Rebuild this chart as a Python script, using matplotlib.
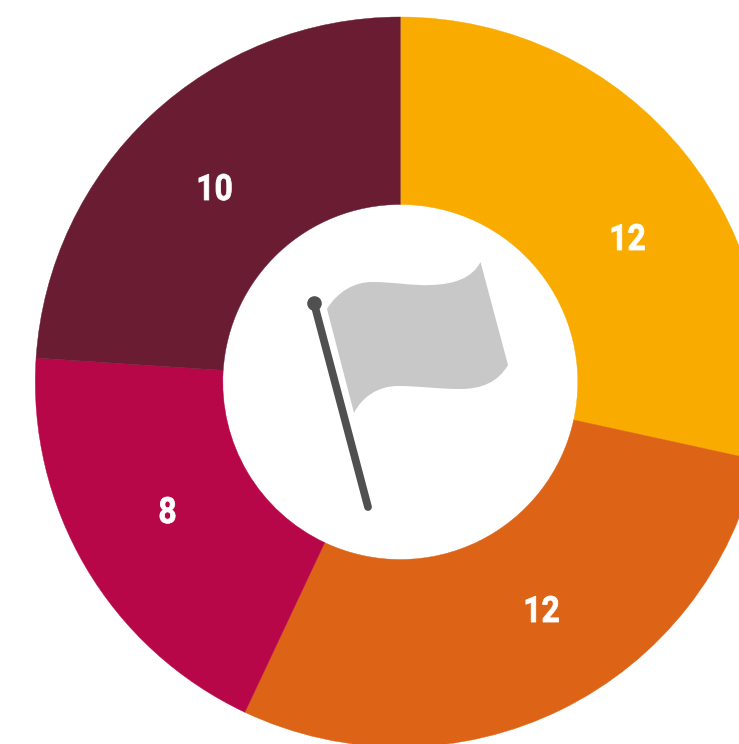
import matplotlib.pyplot as plt
import matplotlib.patheffects as pe
from matplotlib.path import Path
from matplotlib.patches import PathPatch
from matplotlib.transforms import Affine2D

# %% Data
categories = ['Amber', 'Orange', 'Crimson', 'Maroon']
values = [11.94, 12, 8, 10.06]
labels = ['12', '12', '8', '10']
colors = ['#f9ab00', '#dd6316', '#b80748', '#691c32']

W, H = 739, 744


# squeeze the glyphs sideways and thicken them a bit, no Roboto Condensed installed
class Condense(pe.AbstractPathEffect):
    def __init__(self, cx, sx, stroke):
        super().__init__()
        self.cx = cx
        self.sx = sx
        self.stroke = stroke

    def draw_path(self, renderer, gc, tpath, affine, rgbFace=None):
        squeeze = Affine2D().translate(-self.cx, 0).scale(self.sx, 1).translate(self.cx, 0)
        gc0 = renderer.new_gc()
        gc0.copy_properties(gc)
        gc0.set_foreground('white')
        gc0.set_linewidth(self.stroke)
        renderer.draw_path(gc0, tpath, affine + squeeze, rgbFace)
        gc0.restore()


fig = plt.figure(figsize=(W / 100, H / 100), dpi=100)
ax = fig.add_axes([0, 0, 1, 1])

# y axis is flipped, so counterclock=True runs clockwise on screen
wedges, _ = ax.pie(values, colors=colors, center=(400.3, 382), radius=365, startangle=-90,
                   counterclock=True, frame=True, wedgeprops=dict(width=187.5))
for w, c in zip(wedges, colors):
    w.set_edgecolor(c)
    w.set_linewidth(0.3)
ax.set_xlim(0, W)
ax.set_ylim(H, 0)
ax.set_aspect('equal')
ax.axis('off')

# %% Labels
label_pos = [(627.5, 240), (541.5, 612), (167.5, 513), (214.5, 190)]
for txt, (x, y) in zip(labels, label_pos):
    cx = ax.transData.transform((x, y))[0]
    ax.text(x, y, txt, color='white', fontsize=26, fontweight='bold',
            family='Roboto', ha='center', va='center',
            path_effects=[Condense(cx, 0.88, 0.6)])

# %% Flag icon
verts = [(327, 309),
         (338, 291), (355, 282), (372, 282),
         (395, 282), (412, 286), (432, 285),
         (455, 284), (472, 278), (480.5, 262),
         (508, 365),
         (498, 382), (482, 389), (460, 389),
         (437, 389), (420, 386), (398, 386),
         (378, 386), (362, 397), (354, 413),
         (327, 309)]
codes = [Path.MOVETO] + [Path.CURVE4] * 9 + [Path.LINETO] + [Path.CURVE4] * 9 + [Path.CLOSEPOLY]
ax.add_patch(PathPatch(Path(verts, codes), fc='#c8c8c8', ec='none'))
ax.plot([314.5, 368], [305, 507], color='#505050', lw=5.6, solid_capstyle='round')
ax.plot([313.7], [303.3], 'o', color='#505050', ms=10.5, mew=0)

fig.savefig('out.png', dpi=100)
